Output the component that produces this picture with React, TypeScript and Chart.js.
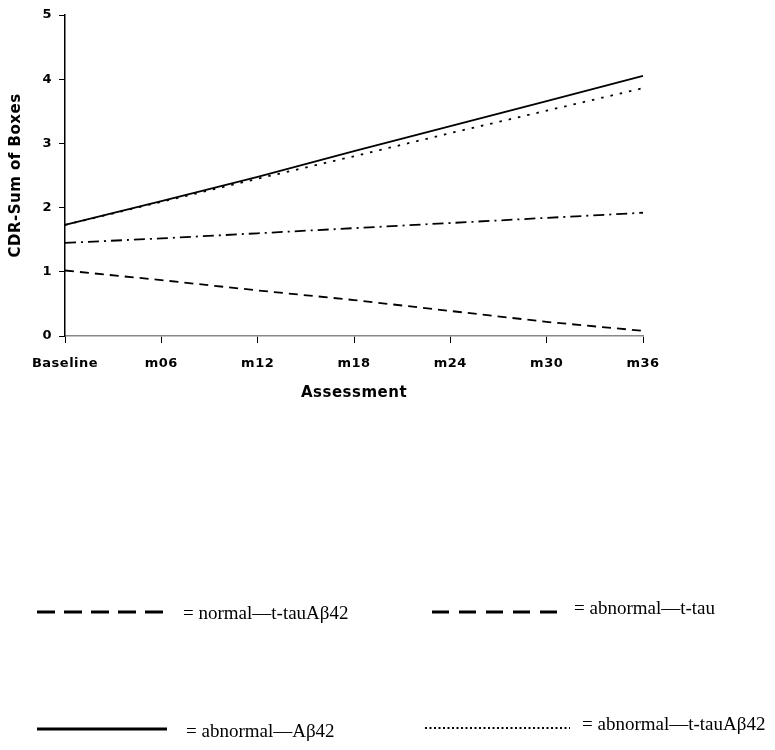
import React, { useEffect, useRef } from "react";
import { Chart, registerables } from "chart.js";

Chart.register(...registerables);

const categories = ["Baseline", "m06", "m12", "m18", "m24", "m30", "m36"];
const normalTtauAb42 = [1.02, 0.87, 0.71, 0.56, 0.39, 0.22, 0.08];
const abnormalTtau = [1.45, 1.52, 1.6, 1.68, 1.76, 1.84, 1.92];
const abnormalAb42 = [1.73, 2.1, 2.48, 2.88, 3.27, 3.66, 4.05];
const abnormalTtauAb42 = [1.73, 2.09, 2.45, 2.8, 3.16, 3.51, 3.86];

const yTitle = "CDR-Sum of Boxes";
const xTitle = "Assessment";
const legendLabels = [
  "= normal\u2014t-tauA\u03b242",
  "= abnormal\u2014t-tau",
  "= abnormal\u2014A\u03b242",
  "= abnormal\u2014t-tauA\u03b242",
];

const spacingPlugin = {
  id: "spacing",
  beforeLayout(chart: any) { (chart.ctx as any).letterSpacing = "0.5px"; },
  beforeDraw(chart: any) { (chart.ctx as any).letterSpacing = "0.5px"; },
};

const legendPlugin = {
  id: "customLegend",
  afterDraw(chart: any) {
    const ctx = chart.ctx as any;
    ctx.save();
    ctx.letterSpacing = "0px";
    ctx.strokeStyle = "#000";
    ctx.fillStyle = "#000";
    ctx.font = "19px 'Liberation Serif', 'Times New Roman', serif";
    ctx.textBaseline = "middle";
    ctx.textAlign = "left";
    const items = [
      { x1: 37, x2: 163, y: 612, dash: [18, 9], w: 3, tx: 183, ty: 614, label: legendLabels[0] },
      { x1: 432, x2: 558, y: 612, dash: [17, 10], w: 3, tx: 574, ty: 609, label: legendLabels[1] },
      { x1: 37, x2: 167, y: 729, dash: [], w: 3, tx: 186, ty: 732, label: legendLabels[2] },
      { x1: 425, x2: 570, y: 728, dash: [2, 2.5], w: 2, tx: 582, ty: 725, label: legendLabels[3] },
    ];
    for (const it of items) {
      ctx.beginPath();
      ctx.setLineDash(it.dash);
      ctx.lineWidth = it.w;
      ctx.moveTo(it.x1, it.y);
      ctx.lineTo(it.x2, it.y);
      ctx.stroke();
      ctx.setLineDash([]);
      ctx.fillText(it.label, it.tx, it.ty);
    }
    ctx.restore();
  },
};

export default function App() {
  const ref = useRef<HTMLCanvasElement | null>(null);
  useEffect(() => {
    document.body.style.margin = "0";
    const tickFont = { family: "'DejaVu Sans', sans-serif", size: 13, weight: "bold" as const };
    const titleFont = { family: "'DejaVu Sans', sans-serif", size: 15, weight: "bold" as const };
    const chart = new Chart(ref.current!, {
      type: "line",
      data: {
        labels: categories,
        datasets: [
          { label: legendLabels[0], data: normalTtauAb42, borderColor: "#000", borderWidth: 1.8, borderDash: [9, 6], pointRadius: 0, tension: 0 },
          { label: legendLabels[1], data: abnormalTtau, borderColor: "#000", borderWidth: 1.8, borderDash: [11, 5, 2, 5], pointRadius: 0, tension: 0 },
          { label: legendLabels[2], data: abnormalAb42, borderColor: "#000", borderWidth: 1.8, pointRadius: 0, tension: 0 },
          { label: legendLabels[3], data: abnormalTtauAb42, borderColor: "#000", borderWidth: 1.8, borderDash: [2.5, 7], pointRadius: 0, tension: 0 },
        ],
      },
      options: {
        animation: false,
        responsive: false,
        layout: { padding: { left: 0, right: 132, top: 15, bottom: 344 } },
        plugins: { legend: { display: false }, tooltip: { enabled: false } },
        scales: {
          x: {
            offset: false,
            afterFit(scale: any) { scale.height = 70; },
            grid: { drawOnChartArea: false, drawTicks: true, tickLength: 7, color: "#000" },
            border: { color: "#888", width: 1.5 },
            ticks: { color: "#000", font: tickFont, padding: 13, maxRotation: 0 },
            title: { display: true, text: xTitle, color: "#000", font: titleFont, padding: { top: 4, bottom: 4 } },
          },
          y: {
            min: 0,
            max: 5,
            afterFit(scale: any) { scale.width = 65; },
            grid: { drawOnChartArea: false, drawTicks: true, tickLength: 6, color: "#000" },
            border: { color: "#000", width: 1.5 },
            ticks: { stepSize: 1, color: "#000", font: tickFont, padding: 7 },
            title: { display: true, text: yTitle, color: "#000", font: titleFont, padding: { top: 7, bottom: 2 } },
          },
        },
      },
      plugins: [spacingPlugin, legendPlugin],
    });
    return () => chart.destroy();
  }, []);
  return (
    <div style={{ width: 775, height: 750 }}>
      <canvas ref={ref} width={775} height={750} style={{ display: "block" }} />
    </div>
  );
}
